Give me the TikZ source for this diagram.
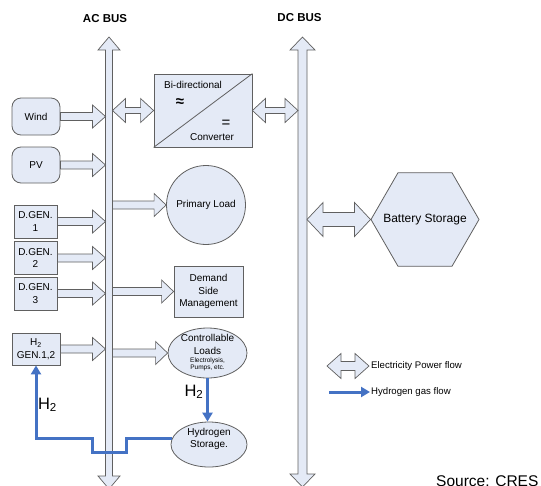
\documentclass[tikz,border=0pt]{standalone}
\usepackage{fontspec}
\setmainfont{Liberation Sans}
\usetikzlibrary{calc,arrows.meta,shapes.geometric}
\definecolor{boxfill}{RGB}{228,234,246}
\definecolor{linegray}{RGB}{96,96,96}
\definecolor{h2blue}{RGB}{68,114,196}
\def\fatarrow(#1)(#2)(#3:#4:#5){\draw[blockarrow] let \p1=(#1), \p2=(#2) in (\x1,\y1+#3) -- (\x2-#5,\y1+#3) -- (\x2-#5,\y1+#4) -- (\x2,\y1) -- (\x2-#5,\y1-#4) -- (\x2-#5,\y1-#3) -- (\x1,\y1-#3) -- cycle;}
\def\dblarrow(#1)(#2)(#3:#4:#5){\draw[blockarrow] let \p1=(#1), \p2=(#2) in (\x1,\y1) -- (\x1+#5,\y1+#4) -- (\x1+#5,\y1+#3) -- (\x2-#5,\y1+#3) -- (\x2-#5,\y1+#4) -- (\x2,\y1) -- (\x2-#5,\y1-#4) -- (\x2-#5,\y1-#3) -- (\x1+#5,\y1-#3) -- (\x1+#5,\y1-#4) -- cycle;}
\def\busarrow(#1)(#2)(#3:#4:#5){\draw[blockarrow] let \p1=(#1), \p2=(#2) in (\x1,\y1) -- (\x1+#4,\y1-#5) -- (\x1+#3,\y1-#5) -- (\x1+#3,\y2+#5) -- (\x1+#4,\y2+#5) -- (\x1,\y2) -- (\x1-#4,\y2+#5) -- (\x1-#3,\y2+#5) -- (\x1-#3,\y1-#5) -- (\x1-#4,\y1-#5) -- cycle;}
\tikzset{
	note/.style={align=center, inner sep=0pt, font=\fontsize{10}{12.5}\selectfont},
	unit/.style={note, draw=linegray, fill=boxfill, line width=0.8pt},
	srcbox/.style={unit, rounded corners=9pt, minimum width=48pt},
	genbox/.style={unit, minimum width=43pt, minimum height=33pt},
	smallnote/.style={align=center, inner sep=0pt, font=\fontsize{6.5}{7}\selectfont},
	legtext/.style={inner sep=1pt, font=\fontsize{9.6}{11}\selectfont},
	buslabel/.style={font=\fontsize{11.5}{13}\selectfont\bfseries},
	bigh/.style={inner sep=0pt, font=\fontsize{16.5}{18}\selectfont},
	blockarrow/.style={draw=linegray, fill=boxfill, line width=0.7pt, line join=miter},
	h2flow/.style={draw=h2blue, line width=3pt, line join=miter, -{Triangle[length=9pt,width=10pt]}}
}
\begin{document}
\begin{tikzpicture}[x=1pt, y=-1pt]
	%%%%% START %%%%%
	\useasboundingbox (0,0) rectangle (541,485);
	
	\coordinate (actop) at (109,37);
	\coordinate (acbot) at (109,489);
	\coordinate (dctop) at (302.5,37);
	\coordinate (dcbot) at (302.5,487);
	\coordinate (acL) at (105.5,0);
	\coordinate (acR) at (112.5,0);
	\coordinate (dcL) at (298,0);
	\coordinate (dcR) at (307,0);
	\busarrow(actop)(acbot)(3.5pt:11pt:13pt);
	\busarrow(dctop)(dcbot)(4.5pt:12.5pt:13pt);
	\node[buslabel] (aclabel) at (105,19) {AC BUS};
	\node[buslabel] (dclabel) at (299.5,17.5) {DC BUS};
	
	\node[srcbox, minimum height=37pt] (wind) at (36,116.5) {Wind};
	\node[srcbox, minimum height=36pt] (pv) at (36,165) {PV};
	\node[genbox] (dgen1) at (35.5,221.5) {D.GEN.\\1};
	\node[genbox] (dgen2) at (35.5,258) {D.GEN.\\2};
	\node[genbox] (dgen3) at (35.5,293.5) {D.GEN.\\3};
	\node[unit, minimum width=48pt, minimum height=32pt] (h2gen) at (36,349) {H\textsubscript{2}\\GEN.1,2};
	
	\fatarrow(wind.east)(acL)(4pt:11.5pt:13pt);
	\fatarrow(pv.east)(acL)(4pt:11.5pt:13pt);
	\fatarrow(dgen1.east)(acL)(4pt:11.5pt:13pt);
	\fatarrow(dgen2.east)(acL)(4pt:11.5pt:13pt);
	\fatarrow(dgen3.east)(acL)(4pt:11.5pt:13pt);
	\fatarrow(h2gen.east)(acL)(4pt:11.5pt:13pt);
	
	\node[unit, minimum width=98pt, minimum height=73pt] (conv) at (203,110.5) {};
	\draw[draw=linegray, line width=0.8pt] (conv.south west) -- (conv.north east);
	\node[note] (convtop) at (193,85) {Bi-directional};
	\node[note, font=\fontsize{15}{16}\selectfont\bfseries] (convac) at (180,102.5) {≈};
	\node[note, font=\fontsize{15}{16}\selectfont] (convdc) at (226,124) {=};
	\node[note] (convbot) at (212,137) {Converter};
	\dblarrow(acR |- conv.west)(conv.west)(3pt:12pt:13pt);
	\dblarrow(conv.east)(dcL)(3pt:12pt:13pt);
	
	\node[unit, circle, minimum size=79pt] (load) at (206,205) {Primary Load};
	\node[unit, minimum width=69pt, minimum height=51pt] (dsm) at (208.5,291.5) {Demand\\Side\\Management};
	\node[unit, ellipse, minimum width=79pt, minimum height=50pt] (ctrl) at (207.5,353) {};
	\node[note] (ctrltxt) at (207.5,344.5) {Controllable\\Loads};
	\node[smallnote] (ctrlsub) at (207.5,364.5) {Electrolysis,\\Pumps, etc.};
	\node[unit, ellipse, minimum width=76pt, minimum height=45pt] (hstore) at (209,444.5) {};
	\node[note] (hstoretxt) at (209,439) {Hydrogen\\Storage.};
	\fatarrow(acR |- load.west)(load.west)(4pt:11.5pt:12pt);
	\fatarrow(acR |- dsm.west)(dsm.west)(4pt:11.5pt:12pt);
	\fatarrow(acR |- ctrl.west)(ctrl.west)(4pt:11.5pt:12pt);
	
	\node[unit, regular polygon, regular polygon sides=6, minimum size=108pt] (batt) at (425,219.5) {};
	\node[note, font=\fontsize{12}{14}\selectfont] (batttxt) at (batt) {Battery Storage};
	\dblarrow(dcR |- batt.west)(batt.west)(7pt:17pt:16pt);
	
	\draw[h2flow] (ctrl.south) -- (ctrl.south |- hstore.north);
	\draw[h2flow] (hstore.170) -| (126,452) -| (92,438) -| (h2gen.south);
	\node[bigh] (h2mid) at (194,392) {H\textsubscript{2}};
	\node[bigh] (h2left) at (47.5,405) {H\textsubscript{2}};
	
	\coordinate (legL) at (327,366);
	\coordinate (legR) at (369,366);
	\coordinate (legH) at (329,392);
	\dblarrow(legL)(legR)(4.5pt:12.5pt:14pt);
	\node[legtext, anchor=west] (legpow) at (370,366) {Electricity Power flow};
	\node[legtext, anchor=west] (legh2) at (370,392) {Hydrogen gas flow};
	\draw[h2flow] (legH) -- (legh2.west);
	
	\node[anchor=base west, inner sep=0pt, font=\fontsize{15.5}{17}\selectfont] (source) at (436,486) {Source: CRES};
	%%%%% END %%%%%
\end{tikzpicture}
\end{document}
